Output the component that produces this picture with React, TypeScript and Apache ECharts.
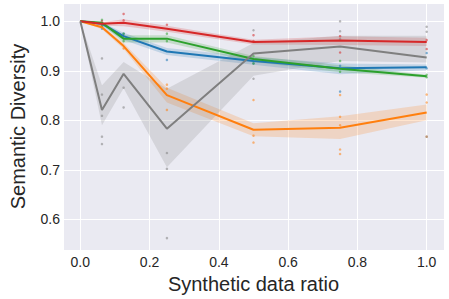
import React, { useEffect, useRef } from "react";
import * as echarts from "echarts";

const ratios = [0, 0.0625, 0.125, 0.25, 0.5, 0.75, 1.0];

const blueMean = [1.0, 0.995, 0.970, 0.939, 0.920, 0.905, 0.907];
const blueLo = [1.0, 0.990, 0.962, 0.932, 0.912, 0.893, 0.901];
const blueHi = [1.0, 0.998, 0.977, 0.946, 0.928, 0.915, 0.913];

const orangeMean = [1.0, 0.988, 0.950, 0.851, 0.781, 0.785, 0.816];
const orangeLo = [1.0, 0.984, 0.944, 0.836, 0.768, 0.762, 0.800];
const orangeHi = [1.0, 0.991, 0.956, 0.866, 0.794, 0.808, 0.832];

const greenMean = [1.0, 0.997, 0.965, 0.965, 0.924, 0.904, 0.889];
const greenLo = [1.0, 0.994, 0.957, 0.957, 0.918, 0.897, 0.886];
const greenHi = [1.0, 0.999, 0.972, 0.972, 0.930, 0.911, 0.892];

const redMean = [1.0, 0.995, 0.997, 0.985, 0.958, 0.961, 0.958];
const redLo = [1.0, 0.991, 0.990, 0.979, 0.953, 0.952, 0.950];
const redHi = [1.0, 0.998, 1.004, 0.991, 0.963, 0.970, 0.967];

const grayMean = [1.0, 0.821, 0.894, 0.783, 0.935, 0.949, 0.927];
const grayLo = [1.0, 0.790, 0.865, 0.705, 0.890, 0.920, 0.917];
const grayHi = [1.0, 0.871, 0.918, 0.864, 0.956, 0.971, 0.971];

const bluePts = [[0.0625, 0.99], [0.0625, 0.985], [0.125, 0.975], [0.25, 0.922], [0.5, 0.915], [0.75, 0.858], [0.75, 0.91], [1.0, 0.936], [1.0, 0.905]];
const orangePts = [[0.0625, 0.992], [0.125, 0.97], [0.125, 0.945], [0.25, 0.872], [0.25, 0.864], [0.25, 0.821], [0.5, 0.841], [0.5, 0.769], [0.5, 0.755], [0.75, 0.851], [0.75, 0.807], [0.75, 0.79], [0.75, 0.741], [0.75, 0.732], [1.0, 0.852], [1.0, 0.836], [1.0, 0.767]];
const greenPts = [[0.0625, 1.003], [0.0625, 0.996], [0.0625, 0.99], [0.125, 0.975], [0.125, 0.96], [0.25, 0.975], [0.25, 0.96], [0.5, 0.93], [0.5, 0.915], [0.75, 0.92], [0.75, 0.898], [1.0, 0.892], [1.0, 0.887]];
const redPts = [[0.0625, 1.0], [0.125, 1.015], [0.125, 1.002], [0.25, 0.993], [0.5, 0.972], [0.5, 0.96], [0.75, 0.97], [0.75, 0.937], [1.0, 0.962], [1.0, 0.944]];
const grayPts = [[0.0625, 0.925], [0.0625, 0.852], [0.0625, 0.809], [0.0625, 0.767], [0.0625, 0.752], [0.125, 0.866], [0.125, 0.826], [0.25, 0.734], [0.25, 0.702], [0.25, 0.562], [0.5, 0.982], [0.5, 0.884], [0.75, 1.0], [0.75, 0.98], [0.75, 0.964], [1.0, 0.989], [1.0, 0.979], [1.0, 0.767]];

const groups = [
  { name: "blue", color: "#1f77b4", mean: blueMean, lo: blueLo, hi: blueHi, pts: bluePts },
  { name: "orange", color: "#ff7f0e", mean: orangeMean, lo: orangeLo, hi: orangeHi, pts: orangePts },
  { name: "green", color: "#2ca02c", mean: greenMean, lo: greenLo, hi: greenHi, pts: greenPts },
  { name: "red", color: "#d62728", mean: redMean, lo: redLo, hi: redHi, pts: redPts },
  { name: "gray", color: "#7f7f7f", mean: grayMean, lo: grayLo, hi: grayHi, pts: grayPts },
];

const FONT = "Liberation Sans, Arial, sans-serif";
const TXT = "#262626";

export default function App() {
  const ref = useRef<HTMLDivElement>(null);
  useEffect(() => {
    if (!ref.current) return;
    const chart = echarts.init(ref.current, null, { renderer: "svg" });
    const series: any[] = [];
    groups.forEach((g) => {
      const bandData = ratios.map((x, i) => [x, g.lo[i], g.hi[i]]);
      series.push({
        type: "custom",
        data: bandData,
        encode: { x: 0, y: [1, 2] },
        silent: true,
        z: 1,
        renderItem: (params: any, api: any) => {
          if (params.dataIndex !== 0) return null;
          const upper = bandData.map((d) => api.coord([d[0], d[2]]));
          const lower = bandData.map((d) => api.coord([d[0], d[1]])).reverse();
          return {
            type: "polygon",
            shape: { points: upper.concat(lower) },
            style: { fill: g.color, opacity: 0.2 },
          };
        },
      });
    });
    groups.forEach((g) => {
      series.push({
        type: "scatter",
        data: g.pts,
        symbolSize: 2.5,
        itemStyle: { color: g.color, opacity: 0.55 },
        z: 2,
      });
    });
    groups.forEach((g) => {
      series.push({
        type: "line",
        data: ratios.map((x, i) => [x, g.mean[i]]),
        lineStyle: { color: g.color, width: 2 },
        itemStyle: { color: g.color },
        symbol: "none",
        z: 3,
      });
    });
    chart.setOption({
      animation: false,
      grid: {
        left: 63,
        top: 3,
        right: 5,
        bottom: 45,
        show: true,
        backgroundColor: "#EAEAF2",
        borderWidth: 0,
      },
      xAxis: {
        type: "value",
        min: -0.05,
        max: 1.05,
        splitNumber: 5,
        name: "Synthetic data ratio",
        nameLocation: "middle",
        nameGap: 24,
        nameTextStyle: { fontFamily: FONT, fontSize: 20, color: TXT },
        axisLine: { show: false },
        axisTick: { show: false },
        axisLabel: {
          fontFamily: FONT,
          fontSize: 14,
          color: TXT,
          margin: 5,
          showMinLabel: false,
          showMaxLabel: false,
          formatter: (v: number) => v.toFixed(1),
        },
        splitLine: { show: true, lineStyle: { color: "#ffffff", width: 1 } },
      },
      yAxis: {
        type: "value",
        min: 0.538,
        max: 1.037,
        splitNumber: 5,
        name: "Semantic Diversity",
        nameLocation: "middle",
        nameGap: 35,
        nameTextStyle: { fontFamily: FONT, fontSize: 20, color: TXT },
        axisLine: { show: false },
        axisTick: { show: false },
        axisLabel: {
          fontFamily: FONT,
          fontSize: 14,
          color: TXT,
          margin: 3,
          showMinLabel: false,
          showMaxLabel: false,
          formatter: (v: number) => v.toFixed(1),
        },
        splitLine: { show: true, lineStyle: { color: "#ffffff", width: 1 } },
      },
      series,
    });
    return () => chart.dispose();
  }, []);
  return <div ref={ref} style={{ width: 449, height: 299, position: "absolute", left: 0, top: 0 }} />;
}
